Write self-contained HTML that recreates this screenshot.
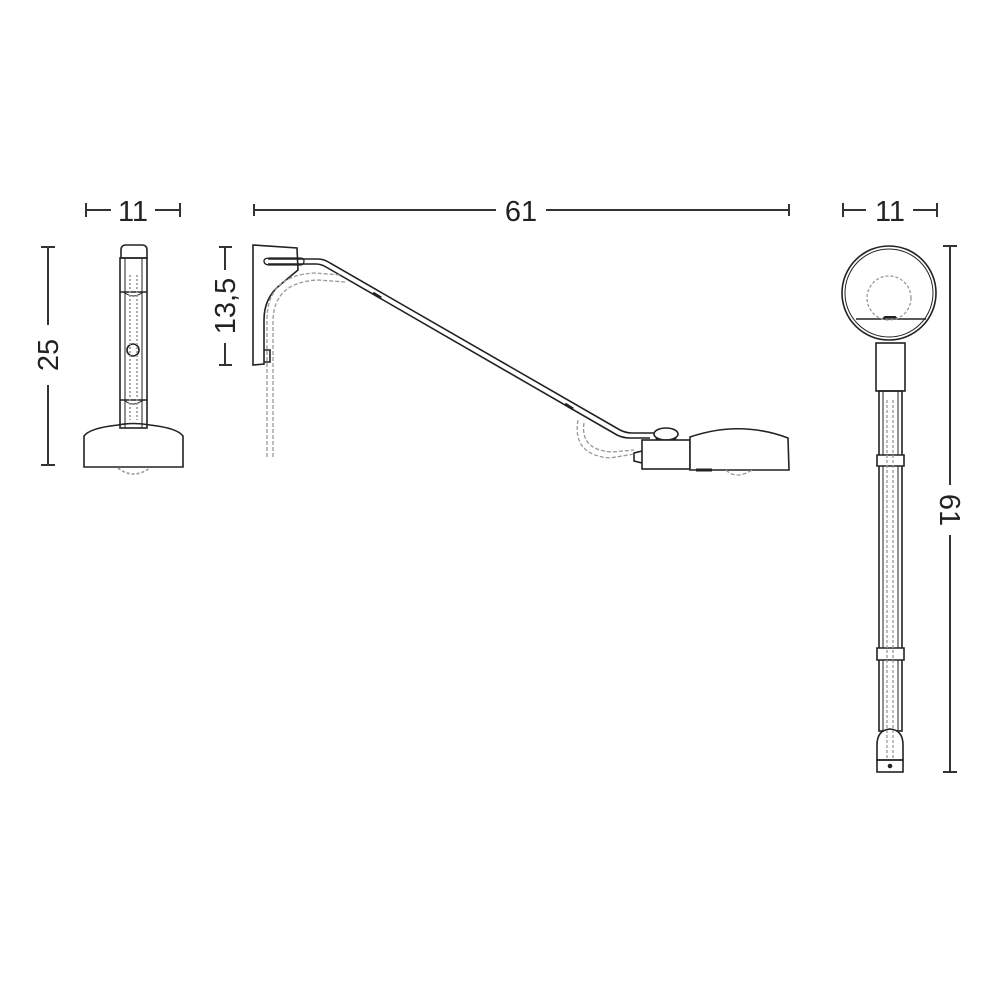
<!DOCTYPE html>
<html><head><meta charset="utf-8"><style>
html,body{margin:0;padding:0;background:#fff}
svg{display:block}
text{font-family:"Liberation Sans",sans-serif;font-size:29px;fill:#222}
</style></head><body>
<svg width="1000" height="1000" viewBox="0 0 1000 1000">
<g stroke="#333" stroke-width="2" fill="none">
<!-- left dims -->
<line x1="86" y1="210" x2="111" y2="210"/><line x1="86" y1="203" x2="86" y2="217"/>
<line x1="155" y1="210" x2="180" y2="210"/><line x1="180" y1="203" x2="180" y2="217"/>
<line x1="48" y1="247" x2="48" y2="325"/><line x1="41" y1="247" x2="55" y2="247"/>
<line x1="48" y1="385" x2="48" y2="465"/><line x1="41" y1="465" x2="55" y2="465"/>
<!-- 61 top -->
<line x1="254" y1="210" x2="496" y2="210"/><line x1="254" y1="204" x2="254" y2="216"/>
<line x1="546" y1="210" x2="789" y2="210"/><line x1="789" y1="204" x2="789" y2="216"/>
<!-- 13,5 -->
<line x1="225" y1="247" x2="225" y2="270"/><line x1="219" y1="247" x2="232" y2="247"/>
<line x1="225" y1="343" x2="225" y2="365"/><line x1="219" y1="365" x2="232" y2="365"/>
<!-- right dims -->
<line x1="843" y1="210" x2="866" y2="210"/><line x1="843" y1="203" x2="843" y2="217"/>
<line x1="913" y1="210" x2="937" y2="210"/><line x1="937" y1="203" x2="937" y2="217"/>
<line x1="950" y1="246" x2="950" y2="485"/><line x1="943" y1="246" x2="957" y2="246"/>
<line x1="950" y1="535" x2="950" y2="772"/><line x1="943" y1="772" x2="957" y2="772"/>
</g>
<text x="133" y="221" text-anchor="middle">11</text>
<text x="521" y="221" text-anchor="middle">61</text>
<text x="890" y="221" text-anchor="middle">11</text>
<text transform="translate(58,355) rotate(-90)" text-anchor="middle">25</text>
<text transform="translate(235,306) rotate(-90)" text-anchor="middle">13,5</text>
<text transform="translate(940,510) rotate(90)" text-anchor="middle">61</text>

<!-- LEFT VIEW -->
<g stroke="#222" stroke-width="1.6" fill="none">
<path d="M121 250 Q121 245 126 245 L142 245 Q147 245 147 250 L147 258 L121 258 Z"/>
<rect x="120" y="258" width="27" height="170"/>
<line x1="125" y1="258" x2="125" y2="428" stroke-width="1"/>
<line x1="142" y1="258" x2="142" y2="428" stroke-width="1"/>
<path d="M120 292 L147 292 M120 400 L147 400"/>
<path d="M124 292 q9 8 19 0 M124 400 q9 8 19 0" stroke-width="1"/>
<circle cx="133" cy="350" r="6"/>
<line x1="130" y1="275" x2="130" y2="420" stroke="#999" stroke-dasharray="2,2"/>
<line x1="137" y1="275" x2="137" y2="420" stroke="#999" stroke-dasharray="2,2"/>
<path d="M84 436 Q90 428 118 425 Q133 422 150 425 Q177 428 183 436 L183 467 L84 467 Z"/>
<path d="M118 468 Q133 480 150 468" stroke="#999" stroke-dasharray="3,2"/>
</g>

<!-- MIDDLE VIEW -->
<g stroke="#222" stroke-width="1.6" fill="none">
<path d="M253 245 L297 248 L298 270 L280 285 Q264 298 264 320 L264 364 L253 365 Z"/>
<path d="M270 258 L300 258 Q304 258 304 261 Q304 265 300 265 L270 265 Q264 265 264 261 Q264 258 270 258 Z" stroke-width="1.3"/>
<path d="M268 259 L318 259 Q324 259 330 263 L620 430 Q626 433 632 433 L655 433"/>
<path d="M268 264 L316 264 Q321 264 326 267 L617 435 Q623 438 630 438 L650 438"/>
<path d="M264 350 L270 350 L270 362 L264 362"/>
<path d="M373 293 l8 5 M565 404 l8 5" stroke-width="3"/>
<ellipse cx="666" cy="434" rx="12" ry="6" fill="#fff"/>
<path d="M656 438 Q666 452 676 438"/>
<rect x="642" y="440" width="48" height="29" fill="#fff"/>
<path d="M642 451 L634 453 L634 461 L642 463"/>
<path d="M690 437 Q740 420 788 438 L789 470 L690 470 Z" fill="#fff"/>
<line x1="696" y1="470" x2="712" y2="470" stroke-width="3"/>
</g>
<g stroke="#999" stroke-width="1.3" fill="none" stroke-dasharray="4,2">
<path d="M267 457 L267 320 Q267 275 315 273 L340 275"/>
<path d="M273 457 L273 322 Q273 282 318 280 L345 282"/>
<path d="M578 420 Q572 455 610 458 L634 454"/>
<path d="M584 423 Q580 450 612 452 L634 450"/>
<path d="M726 470 Q736 480 752 470"/>
</g>

<!-- RIGHT VIEW -->
<g stroke="#222" stroke-width="1.6" fill="none">
<circle cx="889" cy="293" r="47"/>
<circle cx="889" cy="293" r="44" stroke-width="1"/>
<line x1="856" y1="319" x2="926" y2="319"/>
<path d="M883 319 L885 317 L895 317 L897 319" stroke-width="2"/>
<rect x="876" y="343" width="29" height="48"/>
<rect x="879" y="391" width="23" height="340"/>
<line x1="883" y1="391" x2="883" y2="731" stroke-width="1"/>
<line x1="898" y1="391" x2="898" y2="731" stroke-width="1"/>
<path d="M877 455 L904 455 L904 466 L877 466 Z M877 648 L904 648 L904 660 L877 660 Z" fill="#fff"/>
<path d="M877 760 L877 745 Q877 730 890 729 Q903 730 903 745 L903 760 Z" fill="#fff"/>
<rect x="877" y="760" width="26" height="12"/>
<circle cx="890" cy="766" r="1.5" fill="#222"/>
</g>
<g stroke="#999" stroke-width="1.3" fill="none" stroke-dasharray="3,2">
<circle cx="889" cy="298" r="22"/>
<line x1="887" y1="400" x2="887" y2="760"/>
<line x1="893" y1="400" x2="893" y2="760"/>
</g>
</svg>
</body></html>
